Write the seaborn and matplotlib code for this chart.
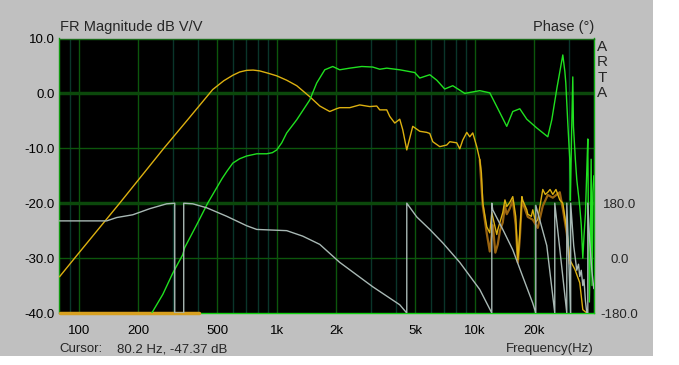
"""
ARTA style frequency response: magnitude (dB) + phase (deg)
"""
import matplotlib
matplotlib.use('Agg')
import matplotlib.pyplot as plt
from matplotlib.patches import Rectangle
import seaborn as sns

# woofer magnitude (gold)
wf_freq = [80, 100, 161, 269, 355, 475, 540, 600, 650, 705, 760, 820, 900, 1000,
           1123, 1262, 1468, 1650, 1852, 2000, 2080, 2337, 2625, 2950, 3199, 3313, 3594, 3722, 3945, 4180,
           4327, 4536, 4862, 5276, 5723, 5927, 6138, 6657, 7221, 7478, 8111, 8400, 8697, 9113, 9434,
           9770, 10234, 10600, 10800, 10975, 11497, 11907, 12188, 12330, 12915, 13070, 13850, 14200,
           14505, 15000, 15557, 16100, 16500, 16880, 17300, 17477, 18310, 18521, 19300, 19630, 20300,
           20800, 21600, 22050, 22700, 23375, 24000, 24770, 25700, 26870, 27830, 29150, 30180, 31990,
           33900, 35120, 36790]
wf_db = [-33.4, -29.1, -20.0, -10.0, -4.8, 0.7, 2.3, 3.3, 3.9, 4.2, 4.25, 4.1, 3.7, 3.2,
         2.4, 1.4, -0.6, -2.3, -3.3, -2.8, -2.6, -2.6, -2.1, -2.4, -2.3, -3.0, -3.0, -4.2, -5.4, -4.7,
         -6.6, -10.3, -6.0, -6.9, -7.1, -7.3, -8.8, -9.7, -9.4, -8.8, -9.0, -10.1, -8.5, -7.1, -7.9,
         -7.2, -9.7, -12.1, -14.5, -19.9, -24.3, -25.4, -21.7, -22.5, -25.7, -24.8, -21.7, -19.4,
         -20.6, -19.9, -18.8, -22.4, -30.3, -25.4, -18.8, -19.5, -21.2, -22.0, -22.4, -21.2, -23.5,
         -23.0, -19.4, -17.5, -18.4, -18.0, -17.5, -18.4, -17.5, -19.4, -20.0, -24.8, -30.3, -32.0,
         -34.5, -39.4, -40.0]

# raw woofer trace above 10 kHz (dark orange)
raw_freq = [10600, 10975, 11497, 11907, 12330, 12700, 13070, 13400, 13850, 14200, 14505, 15000, 15557,
            16100, 16500, 16880, 17300, 17900, 18521, 19630, 20800, 22050, 23375, 24770, 26870, 27830,
            29150, 30180]
raw_db = [-12.1, -20.5, -25.5, -28.8, -24.0, -29.0, -27.5, -25.0, -23.5, -20.5, -22.0, -21.0, -19.5,
          -24.0, -30.8, -26.5, -19.5, -21.0, -22.5, -23.0, -24.5, -20.5, -18.5, -19.0, -18.0, -21.0,
          -25.5, -31.0]

# woofer magnitude below the axis (sits on -40 dB)
floor_freq = [80, 404]
floor_db = [-40, -40]

# tweeter magnitude (green)
tw_freq = [234, 266, 298, 335, 343, 400, 448, 490, 530, 560, 600, 650, 705, 793, 890, 950, 1000, 1060,
           1123, 1262, 1468, 1592, 1748, 1918, 2080, 2337, 2687, 3054, 3313, 3594, 4180, 4977, 5276,
           5927, 6431, 7051, 7743, 8902, 10600, 11907, 12915, 14505, 15557, 16880, 18310, 20565, 23375,
           24490, 26000, 27830, 28500, 28820, 29490, 30180, 30400, 30800, 31260, 31500, 32200, 32740,
           33900, 34500, 35120, 35600, 36200, 36790, 37220, 37500, 37900, 38300, 38700, 39100, 39500,
           39900]
tw_db = [-40.0, -36.6, -32.8, -29.4, -28.1, -23.5, -20.0, -17.6, -15.5, -14.2, -12.7, -11.9, -11.4,
         -11.0, -11.0, -10.8, -10.3, -9.0, -7.2, -4.8, -1.2, 1.9, 4.3, 4.9, 4.3, 4.6, 4.9, 4.8, 4.4,
         4.6, 4.3, 3.8, 2.8, 3.4, 2.4, 0.8, 1.4, 0.0, 0.5, 0.1, -2.4, -6.0, -3.3, -2.8, -4.7, -6.3,
         -7.9, -4.8, 1.0, 7.0, 4.0, 1.9, -5.4, -12.0, -19.5, -8.0, 3.0, -6.0, -12.0, -15.7, -20.6,
         -24.0, -30.0, -26.0, -22.0, -14.0, -8.3, -25.0, -38.0, -30.0, -12.0, -35.0, -18.0, -15.0]

# phase (deg), wrapped at +/-180
ph_freq = [80, 138.5, 155.6, 187.4, 228.4, 278.2, 305.5, 305.5, 339.1, 339.1, 376.6, 442.9, 559.3,
           705.5, 792.6, 1123, 1353, 1649, 2080, 3054, 4180, 4536, 4536, 5093, 5927, 6891, 8400, 10600,
           12188, 12188, 12330, 13850, 15557, 17477, 19630, 20330, 20330, 23100, 25350, 25350, 29150,
           29150, 30500, 30500, 31600, 32740, 33400, 33900, 34500, 35120, 35600, 36200, 36800, 37220,
           37220, 38000, 39000, 39900]
ph_deg = [122, 122, 133, 142, 162, 178, 180, -180, -180, 180, 178, 165, 137,
          106, 94, 90, 72, 45, -14, -94, -153, -180, 180, 135, 94, 50, -14, -103,
          -180, 180, 158, 94, 27, -61, -148, -180, 173, 41, -180, 180, -180,
          180, -180, 180, 40, -40, -20, -60, -40, -90, -70, -140, -180, -180,
          180, 60, -40, -100]

xticks = [100, 200, 500, 1000, 2000, 5000, 10000, 20000]
xtick_labels = ['100', '200', '500', '1k', '2k', '5k', '10k', '20k']
xminor = [90, 300, 400, 600, 700, 800, 900, 3000, 4000, 6000, 7000, 8000, 9000, 30000, 40000]
yticks = [-40, -30, -20, -10, 0, 10]
ph_ticks = [-180, 0, 180]
ph_labels = ['-180.0', '0.0', '180.0']

W, H = 679, 365


def main():
    sns.set_style('dark')
    plt.rcParams['font.family'] = ['Liberation Sans', 'DejaVu Sans']

    fig = plt.figure(figsize=(W / 100, H / 100), dpi=100, facecolor='white')
    fig.patches.append(Rectangle((0, 1 - 356 / H), 653 / W, 356 / H, transform=fig.transFigure,
                                 facecolor='#c0c0c0', edgecolor='none', zorder=-5))

    left, right, top, bottom = 59.5, 594, 38.5, 313
    ax = fig.add_axes([left / W, 1 - bottom / H, (right - left) / W, (bottom - top) / H])
    ax.set_facecolor('black')
    ax.set_xscale('log')
    ax.set_xlim(80, 40000)
    ax.set_ylim(-40, 10)

    ax.set_xticks(xticks)
    ax.set_xticklabels(xtick_labels)
    ax.set_xticks(xminor, minor=True)
    ax.set_xticklabels([''] * len(xminor), minor=True)
    ax.set_yticks(yticks)
    ax.set_yticklabels([f'{v:.1f}' for v in yticks])
    ax.tick_params(which='both', length=0, labelsize=9.5, colors='black')
    ax.tick_params(axis='x', pad=9)
    ax.tick_params(axis='y', pad=3.5)

    ax.grid(False)
    for f in xticks:
        ax.axvline(f, color='#0c560c', lw=1, zorder=0.5)
    for f in xminor:
        ax.axvline(f, color='#0a352a', lw=1, zorder=0.4)
    for v in [-30, -10]:
        ax.axhline(v, color='#0c560c', lw=1, zorder=0.5)
    for v in [-20, 0]:
        ax.axhline(v, color='#0b480b', lw=2.5, zorder=0.5)

    sns.lineplot(x=floor_freq, y=floor_db, ax=ax, color='#d8a020', lw=2.5, sort=False,
                 estimator=None, legend=False, clip_on=False, zorder=3)
    sns.lineplot(x=raw_freq, y=raw_db, ax=ax, color='#9a6410', lw=1.6, sort=False,
                 estimator=None, legend=False, zorder=2)
    sns.lineplot(x=wf_freq, y=wf_db, ax=ax, color='#dcb010', lw=1.0, sort=False,
                 estimator=None, legend=False, zorder=3)
    sns.lineplot(x=tw_freq, y=tw_db, ax=ax, color='#20e020', lw=1.0, sort=False,
                 estimator=None, legend=False, zorder=3)

    spine_cols = {'left': '#109a10', 'bottom': '#10d010', 'top': '#1a6a1a', 'right': '#10b010'}
    for k, c in spine_cols.items():
        ax.spines[k].set_color(c)
        ax.spines[k].set_linewidth(1)

    ax2 = ax.twinx()
    ax2.set_ylim(-180, 720)
    sns.lineplot(x=ph_freq, y=ph_deg, ax=ax2, color='#a8b8b4', lw=1.0, sort=False,
                 estimator=None, legend=False)
    ax2.set_xlim(80, 40000)
    ax2.set_yticks(ph_ticks)
    ax2.set_yticklabels(ph_labels)
    ax2.tick_params(length=0, labelsize=9.5, pad=18.5)
    for lab in ax2.get_yticklabels():
        lab.set_ha('center')
    for s in ax2.spines.values():
        s.set_visible(False)
    ax2.grid(False)
    ax2.set_ylabel('')

    def fx(px):
        return px / W

    def fy(py):
        return 1 - py / H

    fig.text(fx(60), fy(27), 'FR Magnitude dB V/V', fontsize=10.5, va='center', ha='left')
    fig.text(fx(594), fy(27), 'Phase (°)', fontsize=10.5, va='center', ha='right')
    for i, ch in enumerate('ARTA'):
        fig.text(fx(602.5), fy(47 + i * 15.3), ch, fontsize=11, va='center', ha='center')
    fig.text(fx(59), fy(349), 'Cursor:', fontsize=9.5, va='center', ha='left')
    fig.text(fx(117), fy(349), '80.2 Hz, -47.37 dB', fontsize=9.5, va='center', ha='left')
    fig.text(fx(594), fy(349), 'Frequency(Hz)', fontsize=9.5, va='center', ha='right')

    fig.savefig('out.png', dpi=100, facecolor='white')


if __name__ == '__main__':
    main()
